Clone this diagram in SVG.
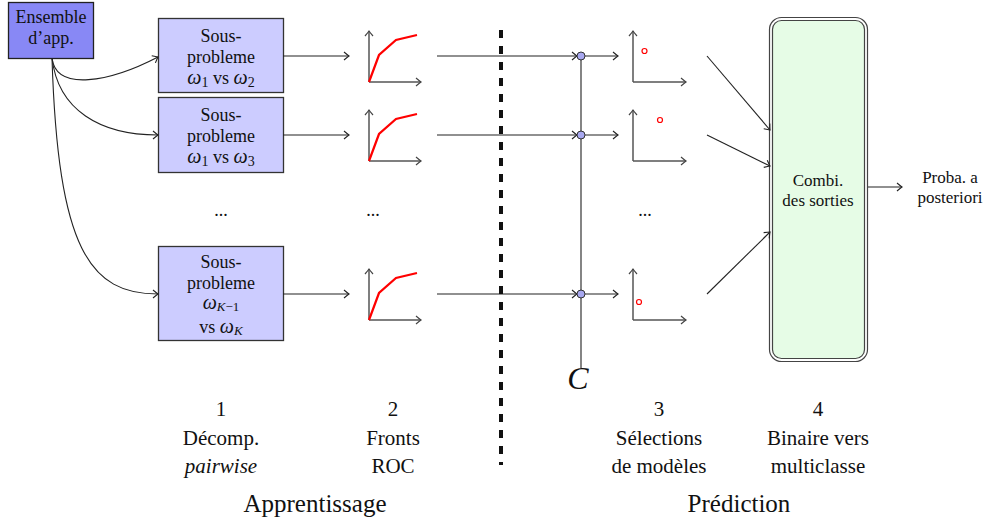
<svg xmlns="http://www.w3.org/2000/svg" width="989" height="522" viewBox="0 0 989 522" font-family="'Liberation Serif', 'DejaVu Serif', serif">
<defs>
<marker id="arr" markerWidth="10" markerHeight="10" refX="0" refY="0" viewBox="-6 -5 8 10" orient="auto" markerUnits="userSpaceOnUse">
<path d="M-5,-4 Q-1.5,-1 0,0 Q-1.5,1 -5,4" fill="none" stroke="#222" stroke-width="1.1"/>
</marker>
<marker id="arrg" markerWidth="10" markerHeight="10" refX="0" refY="0" viewBox="-6 -5 8 10" orient="auto" markerUnits="userSpaceOnUse">
<path d="M-5,-4 Q-1.5,-1 0,0 Q-1.5,1 -5,4" fill="none" stroke="#444" stroke-width="1.2"/>
</marker>
</defs>
<style>
text{font-family:'Liberation Serif','DejaVu Serif',serif;fill:#111;text-anchor:middle}
.bx{font-size:18px}
.lb{font-size:21px}
.big{font-size:25px}
.sm{font-size:17px}
.it{font-style:italic}
.om{font-style:italic;font-size:20px}
.sub{font-size:14px}
.sub2{font-size:13px}
.box{fill:#ccccff;stroke:#333;stroke-width:1.3}
.ln{fill:none;stroke:#222;stroke-width:1.1;marker-end:url(#arr)}
.ax{fill:none;stroke:#555;stroke-width:1.5;marker-end:url(#arrg)}
.roc{fill:none;stroke:#ff0000;stroke-width:2.2}
.pt{fill:none;stroke:#ff0000;stroke-width:1.2}
.nd{fill:#a8a8f0;stroke:#333;stroke-width:1}
</style>
<g id="ensemble">
<rect x="8.5" y="2.5" width="85" height="56" fill="#8888f5" stroke="#222" stroke-width="1.3"/>
<text class="bx" x="51" y="23">Ensemble</text>
<text class="bx" x="51" y="44">d’app.</text>
</g>
<g id="sp1">
<rect class="box" x="158.5" y="18.5" width="125" height="74"/>
<text class="bx" x="221" y="42">Sous-</text>
<text class="bx" x="221" y="63">probleme</text>
<text class="bx" x="221" y="84"><tspan class="om">ω</tspan><tspan class="sub" dy="3">1</tspan><tspan dy="-3"> vs </tspan><tspan class="om">ω</tspan><tspan class="sub" dy="3">2</tspan></text>
</g>
<g id="sp2">
<rect class="box" x="158.5" y="97.5" width="125" height="75"/>
<text class="bx" x="221" y="121">Sous-</text>
<text class="bx" x="221" y="142">probleme</text>
<text class="bx" x="221" y="163"><tspan class="om">ω</tspan><tspan class="sub" dy="3">1</tspan><tspan dy="-3"> vs </tspan><tspan class="om">ω</tspan><tspan class="sub" dy="3">3</tspan></text>
</g>
<g id="sp3">
<rect class="box" x="158.5" y="246.5" width="125" height="94"/>
<text class="bx" x="221" y="268">Sous-</text>
<text class="bx" x="221" y="289">probleme</text>
<text class="bx" x="221" y="309"><tspan class="om">ω</tspan><tspan class="sub2 it" dy="2">K</tspan><tspan class="sub2" dy="0">−1</tspan></text>
<text class="bx" x="221" y="333"><tspan>vs </tspan><tspan class="om">ω</tspan><tspan class="sub2 it" dy="2">K</tspan></text>
</g>
<g id="dots">
<text class="bx" x="221" y="216">...</text>
<text class="bx" x="373" y="216">...</text>
<text class="bx" x="645" y="216">...</text>
</g>
<g id="roc1">
<path class="ax" d="M369,82 V31"/><path class="ax" d="M369,82 H421"/>
<path class="roc" d="M369,82 L379,55 L396,40 L417,35"/>
</g>
<g id="roc2">
<path class="ax" d="M369,161 V110"/><path class="ax" d="M369,161 H421"/>
<path class="roc" d="M369,161 L379,134 L396,119 L417,114"/>
</g>
<g id="roc3">
<path class="ax" d="M369,320 V269"/><path class="ax" d="M369,320 H421"/>
<path class="roc" d="M369,320 L379,293 L396,278 L417,273"/>
</g>
<g id="sel1">
<path class="ax" d="M633,82 V31"/><path class="ax" d="M633,82 H686"/>
<circle class="pt" cx="644.5" cy="51" r="2.5"/>
</g>
<g id="sel2">
<path class="ax" d="M633,161 V110"/><path class="ax" d="M633,161 H686"/>
<circle class="pt" cx="660" cy="120" r="2.5"/>
</g>
<g id="sel3">
<path class="ax" d="M633,320 V269"/><path class="ax" d="M633,320 H686"/>
<circle class="pt" cx="639" cy="302" r="2.5"/>
</g>
<g id="combiner">
<rect x="769.5" y="17.5" width="98" height="344" rx="12" fill="#fff" stroke="#444" stroke-width="1.2"/>
<rect x="772.5" y="20.5" width="92" height="338" rx="9" fill="#e6fce6" stroke="#444" stroke-width="1.2"/>
<text class="sm" x="818" y="186">Combi.</text>
<text class="sm" x="818" y="206">des sorties</text>
</g>
<g id="output">
<text class="sm" x="950" y="183">Proba. a</text>
<text class="sm" x="950" y="203">posteriori</text>
</g>
<g id="connectors">
<path class="ln" d="M52,58 C56,92 110,82 158,57"/>
<path class="ln" d="M52,58 C58,110 100,135 158,135"/>
<path class="ln" d="M52,58 C58,250 90,294 158,294"/>
<path class="ln" d="M283,56 H349"/>
<path class="ln" d="M283,135 H349"/>
<path class="ln" d="M283,294 H349"/>
<path class="ln" d="M437,56 H577"/>
<path class="ln" d="M437,135 H577"/>
<path class="ln" d="M437,294 H577"/>
<path d="M581,56 V368" stroke="#666" stroke-width="1.6"/>
<path class="ln" d="M585,56 H618"/>
<path class="ln" d="M585,135 H618"/>
<path class="ln" d="M585,294 H618"/>
<circle class="nd" cx="581" cy="56" r="4"/>
<circle class="nd" cx="581" cy="135" r="4"/>
<circle class="nd" cx="581" cy="294" r="4"/>
<path class="ln" d="M707,56 L770,130"/>
<path class="ln" d="M707,135 L770,166"/>
<path class="ln" d="M707,294 L770,232"/>
<path class="ln" d="M868,187 H902"/>
<path d="M501,30 V465" stroke="#111" stroke-width="4" stroke-dasharray="8 8"/>
</g>
<g id="labels">
<text x="578" y="389" class="it" style="font-size:32px">C</text>
<text class="lb" x="221" y="416">1</text>
<text class="lb" x="221" y="445">Décomp.</text>
<text class="lb it" x="221" y="473">pairwise</text>
<text class="lb" x="393" y="416">2</text>
<text class="lb" x="393" y="445">Fronts</text>
<text class="lb" x="393" y="473">ROC</text>
<text class="lb" x="659" y="416">3</text>
<text class="lb" x="659" y="445">Sélections</text>
<text class="lb" x="659" y="473">de modèles</text>
<text class="lb" x="818" y="416">4</text>
<text class="lb" x="818" y="445">Binaire vers</text>
<text class="lb" x="818" y="473">multiclasse</text>
<text class="big" x="315" y="512">Apprentissage</text>
<text class="big" x="739" y="512">Prédiction</text>
</g>
</svg>
